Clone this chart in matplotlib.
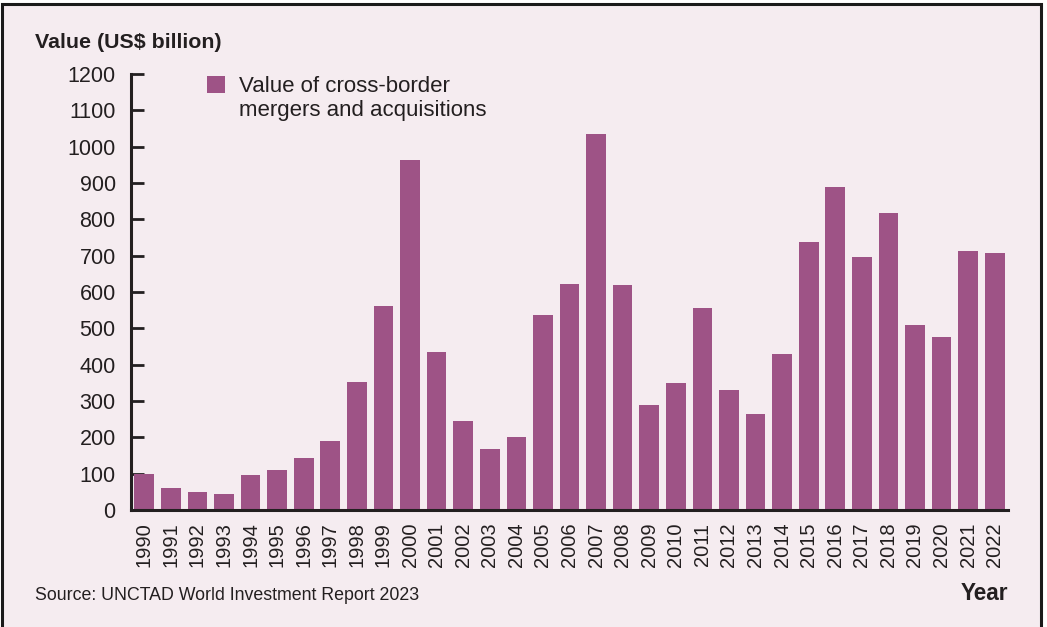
import matplotlib
matplotlib.use("Agg")
from matplotlib import pyplot as plt
from matplotlib.patches import Rectangle
from matplotlib.container import BarContainer
from matplotlib.legend_handler import HandlerPatch

years = [str(y) for y in range(1990, 2023)]
values = [99, 60, 50, 44, 96, 110, 143, 190, 352, 561, 963, 435, 245, 168, 201,
          537, 622, 1035, 619, 289, 350, 556, 330, 264, 429, 738, 889, 696, 817,
          509, 476, 713, 707]
yticks = list(range(0, 1201, 100))

bg = "#f5ecf0"
bar_color = "#9e5386"
ink = "#231f20"

plt.rcParams['font.family'] = ['Liberation Sans', 'DejaVu Sans']

fig = plt.figure(figsize=(10.47, 6.27), dpi=100, facecolor="white")
# page panel with a black border (open at the bottom)
fig.patches.append(Rectangle((2 / 1047, -0.05), 1039 / 1047, 1 - 3.5 / 627 + 0.05,
                             transform=fig.transFigure, facecolor=bg,
                             edgecolor="#1a1a1a", linewidth=2.2, zorder=-5))

ax = fig.add_axes([131 / 1047, 1 - 510 / 627, (1008 - 131) / 1047, (510 - 74) / 627])
ax.set_facecolor(bg)
ax.bar(range(len(years)), values, width=0.74, color=bar_color, zorder=2,
       label="Value of cross-border\nmergers and acquisitions")

ax.set_xlim(-0.5, len(years) - 0.5)
ax.set_ylim(0, 1200)
ax.set_yticks(yticks)
ax.set_yticklabels([str(t) for t in yticks], fontsize=15.5, color=ink)
ax.set_xticks(range(len(years)))
ax.set_xticklabels(years, rotation=90, fontsize=14.5, color=ink)
ax.tick_params(axis="y", direction="in", length=9, width=2, pad=11, color=ink)
ax.tick_params(axis="x", length=0, pad=9)

for s in ["top", "right"]:
    ax.spines[s].set_visible(False)
for s in ["left", "bottom"]:
    ax.spines[s].set_linewidth(2.2)
    ax.spines[s].set_color(ink)
    ax.spines[s].set_zorder(3)


# legend square sits next to the first text line
def top_square(legend, orig_handle, xdescent, ydescent, width, height, fontsize):
    return Rectangle((-xdescent, -ydescent + 10), width, height)


def first_child(legend_handle, orig_handle):
    legend_handle.update_from(orig_handle.patches[0])


leg = ax.legend(loc="upper left", bbox_to_anchor=(0.064, 1.042), frameon=False,
                fontsize=16, handlelength=0.81, handleheight=0.81,
                handletextpad=0.63, labelcolor=ink,
                handler_map={BarContainer: HandlerPatch(patch_func=top_square,
                                                        update_func=first_child)})
leg.get_texts()[0].set_linespacing(1.18)

fig.text(35 / 1047, 1 - 43 / 627, "Value (US$ billion)", fontsize=15.4,
         fontweight="bold", color=ink, va="center", ha="left")
fig.text(35 / 1047, 1 - 596 / 627, "Source: UNCTAD World Investment Report 2023",
         fontsize=12.8, color=ink, va="center", ha="left")
fig.text(1008 / 1047, 1 - 594 / 627, "Year", fontsize=16.3, fontweight="bold",
         color=ink, va="center", ha="right")

fig.savefig("out.png", dpi=100, facecolor="white")
